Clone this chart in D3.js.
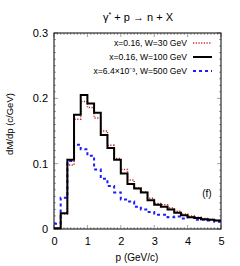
<!DOCTYPE html>
<html><head><meta charset="utf-8">
<script src="https://cdn.jsdelivr.net/npm/d3@7"></script>
<style>body{margin:0;background:#fff}svg{display:block}text{font-family:"Liberation Sans",Arial,sans-serif;fill:#000}</style>
</head><body><div id="c"></div>
<script>
const binEdges = [0,0.2,0.4,0.6,0.8,1.0,1.2,1.4,1.6,1.8,2.0,2.2,2.4,2.6,2.8,3.0,3.2,3.4,3.6,3.8,4.0,4.2,4.4,4.6,4.8,5.0];
const w30 = [0.001,0.023,0.098,0.168,0.195,0.186,0.170,0.150,0.128,0.108,0.091,0.075,0.063,0.057,0.047,0.039,0.037,0.032,0.027,0.023,0.020,0.018,0.016,0.015,0.013];
const w100 = [0.001,0.024,0.106,0.175,0.205,0.192,0.178,0.144,0.124,0.106,0.085,0.069,0.062,0.056,0.044,0.037,0.034,0.030,0.025,0.021,0.018,0.017,0.015,0.014,0.013];
const w500 = [0.008,0.048,0.104,0.129,0.122,0.112,0.091,0.077,0.066,0.056,0.045,0.042,0.034,0.030,0.026,0.022,0.022,0.018,0.019,0.016,0.018,0.014,0.014,0.013,0.011];
const xTicks = [0,1,2,3,4,5];
const yTicks = [0,0.1,0.2,0.3];
const legendLabels = ["x=0.16, W=30 GeV","x=0.16, W=100 GeV","x=6.4×10⁻³, W=500 GeV"];

const W=240,H=266, L=54,R=221,T=33,B=229;
const svg=d3.select("#c").append("svg").attr("width",W).attr("height",H);
const x=d3.scaleLinear().domain([0,5]).range([L,R]);
const y=d3.scaleLinear().domain([0,0.3]).range([B,T]);

const g=svg.append("g");
const xMinor=d3.range(0,51).map(i=>i/10), yMinor=d3.range(0,31).map(i=>i/100);
xMinor.forEach(v=>{const maj=Math.abs(v-Math.round(v))<1e-6;const len=maj?4:2;
  g.append("line").attr("x1",x(v)).attr("x2",x(v)).attr("y1",B).attr("y2",B-len).attr("stroke","#777").attr("stroke-width",0.7);
  g.append("line").attr("x1",x(v)).attr("x2",x(v)).attr("y1",T).attr("y2",T+len).attr("stroke","#777").attr("stroke-width",0.7);});
yMinor.forEach(v=>{const maj=Math.abs(v*10-Math.round(v*10))<1e-6;const len=maj?4:2;
  g.append("line").attr("y1",y(v)).attr("y2",y(v)).attr("x1",L).attr("x2",L+len).attr("stroke","#777").attr("stroke-width",0.7);
  g.append("line").attr("y1",y(v)).attr("y2",y(v)).attr("x1",R).attr("x2",R-len).attr("stroke","#777").attr("stroke-width",0.7);});

const xa=svg.append("g").attr("transform",`translate(0,${B})`).call(d3.axisBottom(x).tickValues(xTicks).tickSize(0).tickPadding(8).tickFormat(d3.format("d")));
xa.select(".domain").remove();
xa.selectAll("text").attr("font-size",11).style("font-family","Liberation Sans, Arial");
const ya=svg.append("g").attr("transform",`translate(${L},0)`).call(d3.axisLeft(y).tickValues(yTicks).tickSize(0).tickPadding(6).tickFormat(d=>d===0?"0":d3.format(".1f")(d)));
ya.select(".domain").remove();
ya.selectAll("text").attr("font-size",11).style("font-family","Liberation Sans, Arial");

svg.append("rect").attr("x",L).attr("y",T).attr("width",R-L).attr("height",B-T).attr("fill","none").attr("stroke","#000").attr("stroke-width",1);

const line=d3.line().x(d=>x(d[0])).y(d=>y(d[1])).curve(d3.curveStepAfter);
function pts(vals){const p=vals.map((v,i)=>[binEdges[i],v]);p.push([binEdges[binEdges.length-1],vals[vals.length-1]]);return p;}
const series=[
 {vals:w500,color:"#1c1cff",width:2,dash:"3,3"},
 {vals:w30,color:"#c0282a",width:1.5,dash:"1.2,1.5"},
 {vals:w100,color:"#000",width:2,dash:null},
];
series.forEach(s=>{svg.append("path").attr("d",line(pts(s.vals))).attr("fill","none").attr("stroke",s.color).attr("stroke-width",s.width).attr("stroke-dasharray",s.dash);});

const legStyle=[series[1],series[2],series[0]];
legendLabels.forEach((lab,i)=>{const yy=43+i*14;
  svg.append("text").attr("x",187).attr("y",yy+3).attr("text-anchor","end").attr("font-size",8.6).text(lab);
  const s=legStyle[i];
  svg.append("line").attr("x1",193).attr("x2",212).attr("y1",yy).attr("y2",yy).attr("stroke",s.color).attr("stroke-width",s.width).attr("stroke-dasharray",s.dash);
});

const t=svg.append("text").attr("x",138).attr("y",21).attr("text-anchor","middle").attr("font-size",11);
t.append("tspan").text("γ");
t.append("tspan").attr("dy",-4).attr("font-size",7).text("*");
t.append("tspan").attr("dy",4).text(" + p → n + X");

svg.append("text").attr("x",137).attr("y",261).attr("text-anchor","middle").attr("font-size",10).text("p (GeV/c)");
svg.append("text").attr("transform","translate(13,124) rotate(-90)").attr("text-anchor","middle").attr("font-size",9.5).text("dM/dp (c/GeV)");
svg.append("text").attr("x",207).attr("y",197).attr("text-anchor","middle").attr("font-size",10).text("(f)");
</script></body></html>
